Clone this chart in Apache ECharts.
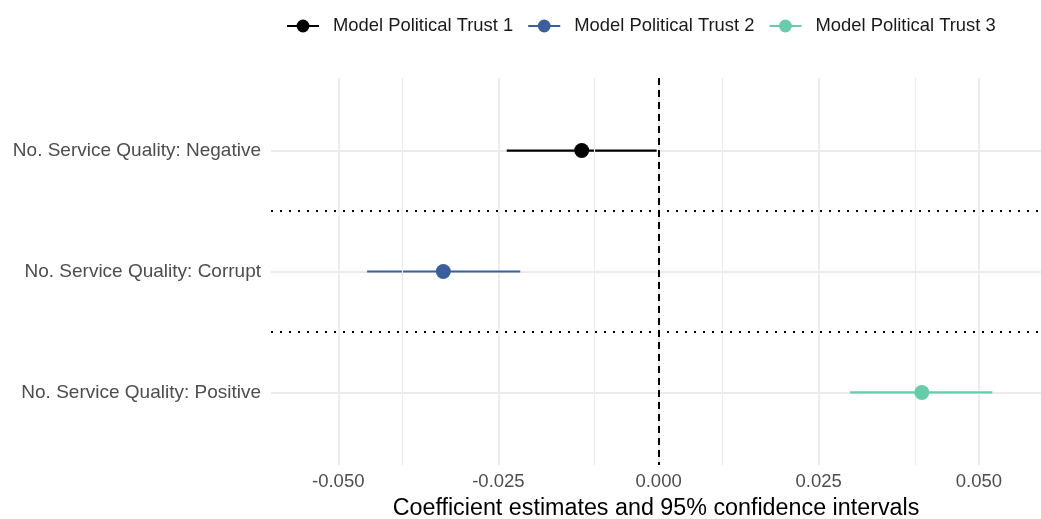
<!DOCTYPE html>
<html>
<head>
<meta charset="utf-8">
<script src="https://cdn.jsdelivr.net/npm/echarts@6/dist/echarts.min.js"></script>
<style>
  html, body { margin: 0; padding: 0; background: #ffffff; }
  #chart { width: 1041px; height: 519px; }
</style>
</head>
<body>
<div id="chart"></div>
<script>
// Coefficient plot: point estimates with 95% confidence intervals
const categories = [
  'No. Service Quality: Negative',
  'No. Service Quality: Corrupt',
  'No. Service Quality: Positive'
];
const models = ['Model Political Trust 1', 'Model Political Trust 2', 'Model Political Trust 3'];
const estimates = [-0.0120, -0.0336, 0.0411];
const lower = [-0.0237, -0.0455, 0.0299];
const upper = [-0.0003, -0.0216, 0.0521];
const colors = ['#000000', '#3b5e9f', '#66cdaa'];
const majorTicks = [-0.05, -0.025, 0, 0.025, 0.05];
const minorTicks = [-0.0375, -0.0125, 0.0125, 0.0375];
const rowValues = [1, 2, 3];
const separators = [1.5, 2.5];
const annotationX = 0.0514;
const annotationShift = 0.35;

const FONT = '"Liberation Sans", Arial, sans-serif';
const chart = echarts.init(document.getElementById('chart'), null, { renderer: 'canvas' });

const series = [];

// reference lines: minor grid, group separators, zero line
series.push({
  type: 'line',
  data: [],
  silent: true,
  z: 1,
  markLine: {
    silent: true,
    symbol: 'none',
    animation: false,
    label: { show: false },
    data: [
      ...minorTicks.map(v => ({ xAxis: v, lineStyle: { color: '#ebebeb', width: 1.2, type: 'solid' } })),
      ...separators.map(v => ({ yAxis: v, lineStyle: { color: '#000000', width: 2, type: [2, 7], cap: 'butt' } })),
      { xAxis: 0, lineStyle: { color: '#000000', width: 2, type: [7, 5], cap: 'butt' } }
    ]
  }
});

models.forEach((name, i) => {
  // confidence interval segment
  series.push({
    type: 'custom',
    silent: true,
    z: 3,
    data: [[lower[i], upper[i], rowValues[i]]],
    renderItem: (params, api) => {
      const a = api.coord([api.value(0), api.value(2)]);
      const b = api.coord([api.value(1), api.value(2)]);
      return {
        type: 'line',
        shape: { x1: a[0], y1: a[1], x2: b[0], y2: b[1] },
        style: { stroke: colors[i], lineWidth: 2.2 }
      };
    },
    encode: { x: [0, 1], y: 2 }
  });
  // point estimate
  series.push({
    type: 'line',
    name: name,
    z: 5,
    data: [[estimates[i], rowValues[i]]],
    symbol: 'circle',
    symbolSize: 15,
    itemStyle: { color: colors[i] },
    lineStyle: { color: colors[i], width: 2.5 },
    animation: false
  });
  // model annotation above each row
  series.push({
    type: 'scatter',
    silent: true,
    z: 6,
    data: [[annotationX, rowValues[i] - annotationShift]],
    symbolSize: 1,
    itemStyle: { opacity: 0 },
    label: {
      show: true,
      position: 'left',
      distance: 0,
      formatter: name,
      color: '#000000',
      fontSize: 18,
      fontFamily: FONT
    }
  });
});

chart.setOption({
  animation: false,
  backgroundColor: '#ffffff',
  legend: {
    data: models,
    top: 12,
    left: 281,
    itemWidth: 32,
    itemHeight: 16,
    itemGap: 14,
    textStyle: { fontSize: 18.4, color: '#1a1a1a', fontFamily: FONT, padding: [0, 0, 0, 9] }
  },
  grid: { left: 271, right: 0, top: 78, bottom: 54, containLabel: false, outerBoundsMode: 'none' },
  xAxis: {
    type: 'value',
    min: -0.0605,
    max: 0.0597,
    name: 'Coefficient estimates and 95% confidence intervals',
    nameLocation: 'middle',
    nameGap: 32,
    nameTextStyle: { fontSize: 23.3, color: '#000000', fontFamily: FONT },
    axisLine: { show: false },
    axisTick: { show: false, customValues: majorTicks },
    axisLabel: {
      customValues: majorTicks,
      formatter: v => v.toFixed(3),
      fontSize: 18.5,
      color: '#4d4d4d',
      fontFamily: FONT,
      margin: 7
    },
    splitLine: { show: true, lineStyle: { color: '#ebebeb', width: 1.8 } }
  },
  yAxis: {
    type: 'value',
    min: 0.4,
    max: 3.6,
    inverse: true,
    axisLine: { show: false },
    axisTick: { show: false, customValues: rowValues },
    axisLabel: {
      customValues: rowValues,
      formatter: v => categories[Math.round(v) - 1],
      fontSize: 19,
      color: '#4d4d4d',
      fontFamily: FONT,
      margin: 10
    },
    splitLine: { show: true, lineStyle: { color: '#ebebeb', width: 1.8 } }
  },
  series: series
});
</script>
</body>
</html>
